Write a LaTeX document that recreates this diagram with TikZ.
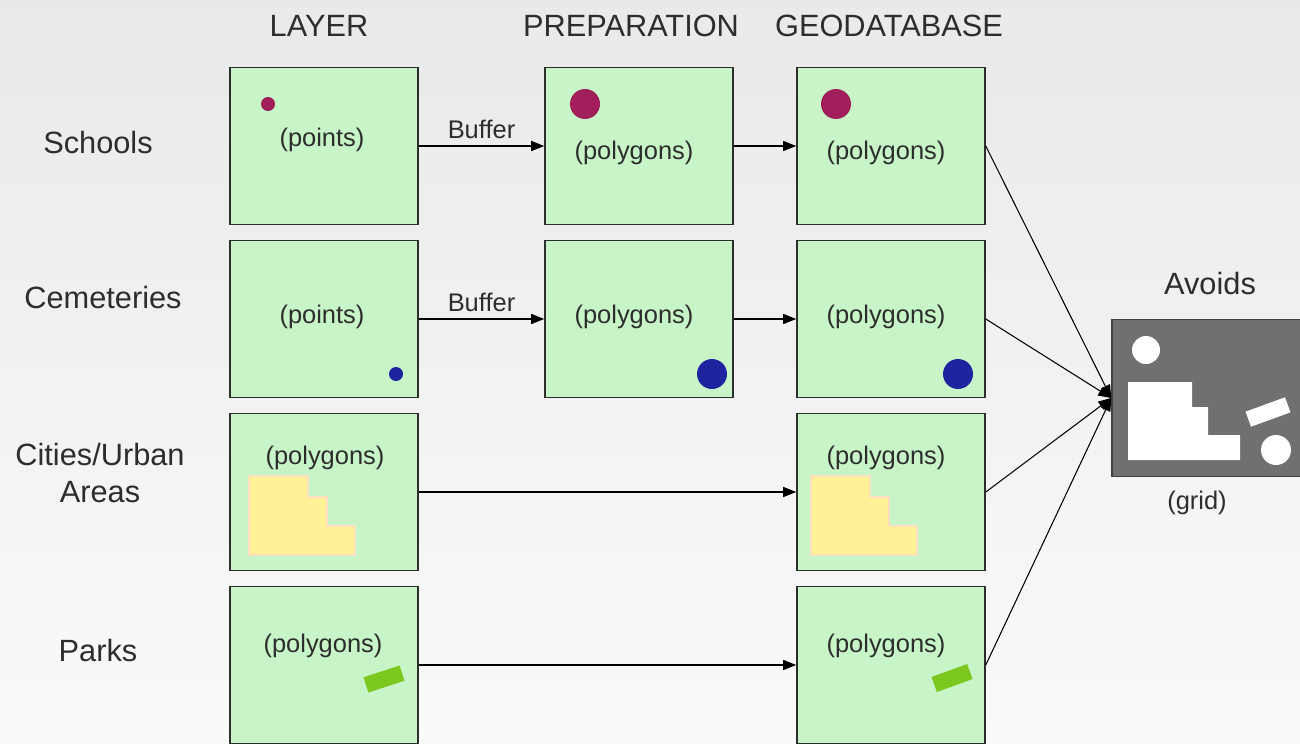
\documentclass[tikz,border=0pt]{standalone}
\usepackage{fontspec}
\setmainfont{Liberation Sans}
\usepackage{tikz}
\usetikzlibrary{arrows.meta,positioning}
\usepackage{xcolor}

\definecolor{boxgreen}{RGB}{200,245,200}
\definecolor{boxline}{RGB}{45,45,45}
\definecolor{textgray}{RGB}{45,45,45}
\definecolor{dotred}{RGB}{160,30,90}
\definecolor{dotblue}{RGB}{30,35,160}
\definecolor{urbanyellow}{RGB}{255,242,150}
\definecolor{parkgreen}{RGB}{125,200,30}
\definecolor{gridgray}{RGB}{112,112,112}

\begin{document}
\begin{tikzpicture}[
  x=0.02cm, y=-0.02cm,
  layer/.style={draw=boxline, line width=0.9pt, fill=boxgreen, minimum width=3.76cm,
                minimum height=3.14cm, inner sep=0pt},
  tag/.style={font=\fontsize{14.5}{17}\selectfont, text=textgray, inner sep=1pt},
  head/.style={font=\fontsize{17.5}{21}\selectfont, text=textgray, align=center},
  arr/.style={-{Triangle[length=0.26cm, width=0.2cm]}, line width=0.8pt},
  link/.style={-{Triangle[length=0.26cm, width=0.2cm]}, line width=0.6pt}
]
\clip (0,0) rectangle (1300,743);
\shade[top color=gray!17, bottom color=gray!4] (0,0) rectangle (1300,743);

% column and row headings
\node[head] (hlayer) at (319,26) {LAYER};
\node[head] (hprep) at (631,26) {PREPARATION};
\node[head] (hgeo) at (889,26) {GEODATABASE};
\node[head] (lsch) at (98,143) {Schools};
\node[head] (lcem) at (103,298) {Cemeteries};
\node[head] (lcity) at (100,473) {Cities/Urban\\Areas};
\node[head] (lpark) at (98,651) {Parks};

% layer boxes
\node[layer] (sch1) at (324,146) {};
\node[layer] (sch2) at (639,146) {};
\node[layer] (sch3) at (891,146) {};
\node[layer] (cem1) at (324,319) {};
\node[layer] (cem2) at (639,319) {};
\node[layer] (cem3) at (891,319) {};
\node[layer] (city1) at (324,492) {};
\node[layer] (city3) at (891,492) {};
\node[layer] (park1) at (324,665) {};
\node[layer] (park3) at (891,665) {};

% features inside the boxes
\fill[dotred] (268,104) circle (7);
\fill[dotred] (585,104) circle (15);
\fill[dotred] (836,104) circle (15);
\fill[dotblue] (396,374) circle (7);
\fill[dotblue] (712,374) circle (15);
\fill[dotblue] (958,374) circle (15);
\foreach \dx in {0,562}
  \filldraw[fill=urbanyellow, draw=orange!25, line width=0.6pt, xshift=\dx*0.02cm]
    (249,476) -- (308,476) -- (308,497) -- (327,497) -- (327,526)
    -- (355,526) -- (355,555) -- (249,555) -- cycle;
\fill[parkgreen, rotate around={18:(384,679)}] (365,671) rectangle (403,687);
\fill[parkgreen, rotate around={20:(952,678)}] (933,670) rectangle (971,686);

\node[tag] (sch1t) at (322,140) {(points)};
\node[tag] (sch2t) at (634,153) {(polygons)};
\node[tag] (sch3t) at (886,153) {(polygons)};
\node[tag] (cem1t) at (322,317) {(points)};
\node[tag] (cem2t) at (634,317) {(polygons)};
\node[tag] (cem3t) at (886,317) {(polygons)};
\node[tag] (city1t) at (325,458) {(polygons)};
\node[tag] (city3t) at (886,458) {(polygons)};
\node[tag] (park1t) at (323,646) {(polygons)};
\node[tag] (park3t) at (886,646) {(polygons)};

% result grid
\node[draw=black!75, line width=0.9pt, fill=gridgray, minimum width=3.96cm,
      minimum height=3.14cm, inner sep=0pt] (avoids) at (1211,398) {};
\fill[white] (1146,350) circle (14);
\fill[white] (1128,382) -- (1192,382) -- (1192,407) -- (1208,407) -- (1208,435)
  -- (1240,435) -- (1240,460) -- (1128,460) -- cycle;
\fill[white, rotate around={20:(1268,412)}] (1247,404) rectangle (1289,420);
\fill[white] (1276,450) circle (15);
\node[head] (lavoid) at (1210,284) {Avoids};
\node[tag] (lgrid) at (1197,503) {(grid)};

% flow
\draw[arr] (sch1) -- node[tag, above=3pt] (buf1) {Buffer} (sch2);
\draw[arr] (sch2) -- (sch3);
\draw[arr] (cem1) -- node[tag, above=3pt] (buf2) {Buffer} (cem2);
\draw[arr] (cem2) -- (cem3);
\draw[arr] (city1) -- (city3);
\draw[arr] (park1) -- (park3);
\foreach \src in {sch3,cem3,city3,park3}
  \draw[link] (\src.east) -- (avoids.west);
\end{tikzpicture}
\end{document}
